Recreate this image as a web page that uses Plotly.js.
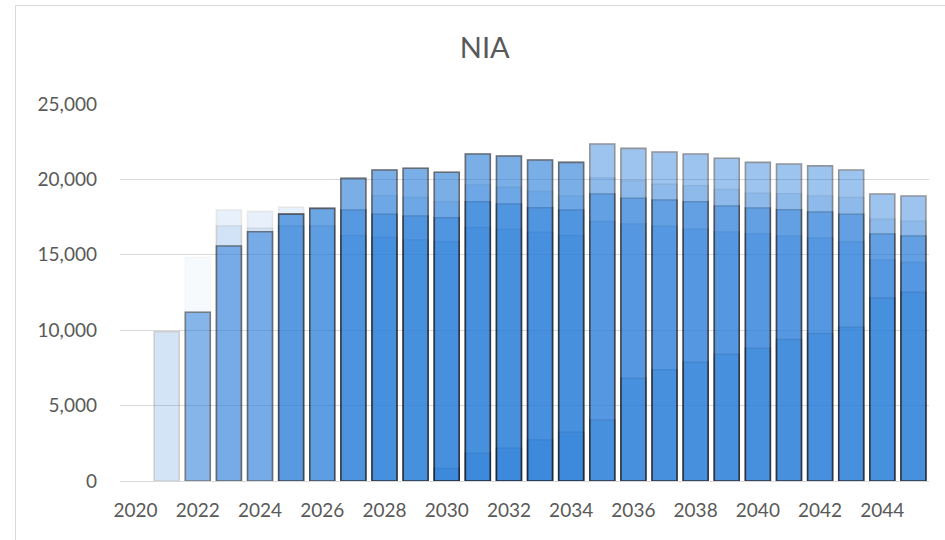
<!DOCTYPE html>
<html>
<head>
<meta charset="utf-8">
<script src="https://cdn.plot.ly/plotly-3.0.1.min.js"></script>
<style>
  html, body { margin: 0; padding: 0; background: #fff; overflow: hidden; }
  #wrap { position: relative; width: 945px; height: 540px; }
  #chart { position: absolute; left: 0; top: 0; width: 945px; height: 540px; }
  #frame { position: absolute; left: 15px; top: 5px; width: 960px; height: 560px;
           border: 1px solid #d9d9d9; pointer-events: none; box-sizing: border-box; }
</style>
</head>
<body>
<div id="wrap">
  <div id="chart"></div>
  <div id="frame"></div>
</div>
<script>
// ---- data ----
const years = [2020, 2021, 2022, 2023, 2024, 2025, 2026, 2027, 2028, 2029, 2030, 2031, 2032,
               2033, 2034, 2035, 2036, 2037, 2038, 2039, 2040, 2041, 2042, 2043, 2044, 2045];
const xTickVals = [2020, 2022, 2024, 2026, 2028, 2030, 2032, 2034, 2036, 2038, 2040, 2042, 2044];
const yTickVals = [0, 5000, 10000, 15000, 20000, 25000];

const seriesA  = [null, null, null, null, null, 17700, 18080, 20070, 20620, 20740, 20470, 21680, 21550,
                  21290, 21130, 22350, 22060, 21820, 21680, 21400, 21130, 21020, 20900, 20620, 19030, 18900];
const seriesA2 = [null, null, null, null, null, null, null, 20070, 20620, 20740, 20470, 21680, 21550,
                  21290, 21130, null, null, null, null, null, null, null, null, null, null, null];
const seriesB  = [null, null, null, null, null, null, null, null, 18920, 18790, 18520, 19630, 19470,
                  19190, 18900, 20110, 19900, 19680, 19580, 19320, 19080, 19050, 18900, 18800, 17350, 17220];
const seriesC  = [null, null, 11190, 15580, 16530, 17700, 18080, 17970, 17690, 17570, 17460, 18520, 18370,
                  18120, 17970, 19030, 18750, 18630, 18520, 18240, 18100, 17990, 17840, 17690, 16380, 16250];
const seriesD  = [null, 9900, 11190, 15580, 16530, 16910, 16910, 16270, 16140, 15980, 15870, 16800, 16690,
                  16490, 16270, 17200, 17040, 16890, 16690, 16510, 16400, 16250, 16110, 15870, 14650, 14490];
const seriesE  = [null, null, null, null, null, null, null, null, null, null, 840, 1840, 2170,
                  2720, 3230, 4050, 6810, 7380, 7870, 8410, 8800, 9380, 9770, 10190, 12130, 12510];
const faint0   = [null, null, 14810, null, null, null, null, null, null, null, null, null, null,
                  null, null, null, null, null, null, null, null, null, null, null, null, null];
const faint1   = [null, null, null, 17970, 17860, 18150, null, null, null, null, null, null, null,
                  null, null, null, null, null, null, null, null, null, null, null, null, null];
const faint2   = [null, null, null, 16910, 16760, null, null, null, null, null, null, null, null,
                  null, null, null, null, null, null, null, null, null, null, null, null, null];

// ---- styling ----
const FILL = 'rgb(40,125,218)';
const EDGE = 'rgb(8,18,34)';
const TEXT = '#595959';
const FONT = 'Lato, "Liberation Sans", sans-serif';

const layers = [
  { y: faint0,   op: 0.03 },
  { y: faint1,   op: 0.10 },
  { y: faint2,   op: 0.11 },
  { y: seriesD,  op: 0.20 },
  { y: seriesE,  op: 0.30 },
  { y: seriesC,  op: 0.42 },
  { y: seriesB,  op: 0.13 },
  { y: seriesA2, op: 0.30 },
  { y: seriesA,  op: 0.45 }
];

const traces = layers.map(l => ({
  type: 'bar',
  x: years,
  y: l.y,
  marker: { color: FILL, opacity: l.op, line: { color: EDGE, width: 1.6 } },
  hoverinfo: 'x+y',
  showlegend: false
}));

const layout = {
  width: 945,
  height: 540,
  paper_bgcolor: '#ffffff',
  plot_bgcolor: '#ffffff',
  barmode: 'overlay',
  bargap: 0.2,
  margin: { l: 120, r: 16, t: 104, b: 59, pad: 0 },
  font: { family: FONT, color: TEXT, size: 19 },
  title: {
    text: 'NIA',
    font: { family: FONT, size: 29, color: TEXT },
    xref: 'container', yref: 'container',
    x: 0.513, y: 0.912, xanchor: 'center', yanchor: 'middle'
  },
  xaxis: {
    range: [2019.5, 2045.5],
    tickmode: 'array',
    tickvals: xTickVals,
    ticktext: xTickVals.map(String),
    showgrid: false,
    zeroline: false,
    showline: true,
    linecolor: '#d9d9d9',
    linewidth: 1,
    ticks: '',
    ticklabelstandoff: 12,
    tickfont: { family: FONT, size: 19, color: TEXT }
  },
  yaxis: {
    range: [0, 25000],
    tickmode: 'array',
    tickvals: yTickVals,
    tickformat: ',d',
    showgrid: true,
    gridcolor: '#d9d9d9',
    gridwidth: 1,
    zeroline: false,
    showline: false,
    ticks: '',
    ticklabelstandoff: 22,
    tickfont: { family: FONT, size: 19, color: TEXT }
  }
};

Plotly.newPlot('chart', traces, layout, { staticPlot: true, displayModeBar: false });
</script>
</body>
</html>
